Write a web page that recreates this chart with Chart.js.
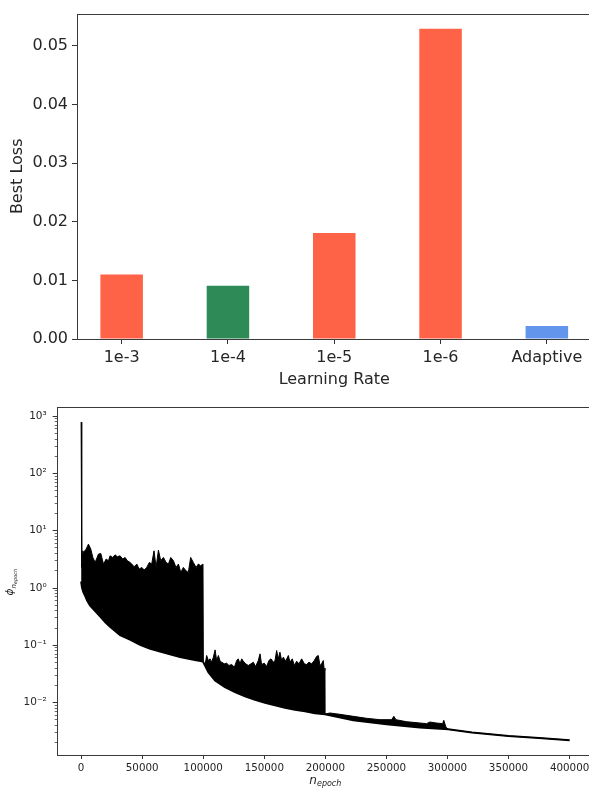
<!DOCTYPE html>
<html><head><meta charset="utf-8">
<script src="https://cdn.jsdelivr.net/npm/chart.js@4.4.0/dist/chart.umd.min.js"></script>
<style>
html,body{margin:0;padding:0;background:#fff;overflow:hidden;width:589px;height:794px;}
#top{position:absolute;left:0;top:0;}
#bot{position:absolute;left:0;top:395px;}
</style></head><body>
<canvas id="top" width="600" height="395"></canvas>
<canvas id="bot" width="600" height="399"></canvas>
<script>
// ---------- top chart data ----------
const learningRates = ['1e-3', '1e-4', '1e-5', '1e-6', 'Adaptive'];
const bestLoss = [0.0110, 0.0091, 0.0181, 0.0529, 0.0022];
const barColors = ['#FF6347', '#2E8B57', '#FF6347', '#FF6347', '#6495ED'];
const lossTicks = [0, 0.01, 0.02, 0.03, 0.04, 0.05];

// ---------- bottom chart data: [epoch, phi] ----------
const upperPhase1 = [[0,790],[500,2.3],[1400,4.47],[1900,4.18],[4100,4.78],[6000,5.84],[7900,4.78],[9600,3.42],[11500,2.80],[14200,3.91],[16100,4.01],[18300,2.62],[20500,3.20],[22400,2.99],[23700,3.65],[25900,3.42],[27800,3.80],[29700,3.51],[31900,3.65],[34100,3.20],[36000,3.42],[37900,2.99],[40100,2.80],[41500,2.62],[43400,2.35],[45600,2.62],[47500,2.14],[49700,2.29],[51600,2.06],[53700,2.29],[55900,2.80],[57800,2.62],[59700,4.47],[61400,2.29],[63300,4.59],[65200,2.99],[67400,3.42],[69600,2.80],[71500,2.62],[73400,3.42],[75600,2.99],[77700,2.29],[79700,2.62],[81600,1.87],[83700,2.29],[85900,2.00],[87800,1.87],[89700,3.42],[91900,2.80],[94100,2.29],[96000,2.62],[97900,2.44],[99800,2.62]];
const upperPhase2 = [[100100,0.0506],[101500,0.045],[102800,0.0662],[104200,0.0541],[105600,0.0579],[106900,0.0506],[108300,0.0619],[109700,0.0830],[111000,0.0541],[112400,0.0662],[113800,0.0527],[115100,0.0506],[117300,0.0473],[119200,0.0486],[121100,0.0443],[123300,0.0461],[125500,0.0414],[127400,0.0541],[128700,0.0579],[130100,0.0473],[131500,0.0579],[132800,0.0527],[134800,0.0473],[136900,0.0443],[139100,0.0473],[141000,0.0506],[142900,0.0425],[145100,0.0541],[146500,0.0708],[147800,0.0461],[150000,0.0486],[151900,0.0425],[153800,0.0541],[155500,0.0579],[157400,0.0506],[158800,0.0541],[160100,0.0809],[161500,0.0579],[162800,0.0757],[164200,0.0541],[165600,0.0619],[167500,0.0527],[169700,0.0662],[171000,0.0506],[172900,0.0579],[174600,0.0443],[176500,0.0527],[178400,0.0473],[180600,0.0579],[182800,0.0473],[184700,0.0461],[186600,0.0506],[188800,0.0473],[190900,0.0541],[192800,0.0636],[194200,0.0662],[195600,0.0443],[196900,0.0473],[198300,0.0541],[199100,0.0362],[199700,0.040]];
const upperPhase3 = [[199800,0.0063],[203800,0.00655],[211900,0.00621],[222900,0.00573],[233800,0.00529],[244700,0.00501],[254200,0.00501],[256100,0.00573],[257800,0.0050],[266500,0.00462],[277400,0.00438],[282900,0.00427],[285600,0.00456],[291000,0.00438],[296000,0.00427],[297000,0.00488],[298700,0.00373],[300600,0.0034]];
const lowerPhase1 = [[0,1.3],[800,1.0],[1900,0.84],[3300,0.73],[5000,0.60],[7400,0.49],[10000,0.43],[15500,0.32],[20000,0.25],[23700,0.21],[31900,0.15],[40000,0.125],[48300,0.102],[56000,0.088],[64600,0.078],[72000,0.070],[81000,0.062],[90000,0.057],[99800,0.052]];
const lowerPhase2 = [[100100,0.0506],[104200,0.0339],[109700,0.0243],[117800,0.0185],[126000,0.0152],[134200,0.0128],[142400,0.0112],[150600,0.0099],[158800,0.0089],[166900,0.0081],[175100,0.0075],[183300,0.0070],[191500,0.0065],[199700,0.0062]];
const lowerPhase3 = [[222900,0.00488],[250100,0.00415],[277400,0.00364],[300600,0.0034]];
const tailPhase4 = [[320000,0.0030],[350000,0.0026],[375000,0.0024],[400000,0.0022]];

const epochTicks = [0, 50000, 100000, 150000, 200000, 250000, 300000, 350000, 400000];
const phiMajorTicks = [1e-2, 1e-1, 1, 10, 100, 1000];
const phiMajorLabels = ['10\u207B\u00B2', '10\u207B\u00B9', '10\u2070', '10\u00B9', '10\u00B2', '10\u00B3'];
const phiMinorMantissas = [2, 3, 4, 5, 6, 7, 8, 9];
const phiMinorDecades = [1e-3, 1e-2, 1e-1, 1, 10, 100];

const FONT = "'DejaVu Sans', sans-serif";
const TXT = '#262626';
Chart.defaults.font.family = FONT;
Chart.defaults.color = TXT;

const frame = {
  id: 'frame',
  afterDraw(chart) {
    const {ctx, chartArea: a} = chart;
    ctx.save();
    ctx.strokeStyle = '#3a3a3a';
    ctx.lineWidth = 1;
    ctx.strokeRect(Math.round(a.left) + 0.5, Math.round(a.top) + 0.5,
      Math.round(a.right - a.left), Math.round(a.bottom - a.top));
    ctx.restore();
  }
};

// ---------- top bar chart ----------
new Chart(document.getElementById('top'), {
  type: 'bar',
  data: {
    datasets: [{
      data: bestLoss.map((v, i) => ({x: i, y: v})),
      backgroundColor: barColors,
      borderWidth: 0,
      categoryPercentage: 0.4,
      barPercentage: 1
    }]
  },
  options: {
    responsive: false, animation: false, devicePixelRatio: 1,
    layout: {padding: {top: 5, right: 8.5, left: 0, bottom: 0}},
    plugins: {legend: {display: false}, tooltip: {enabled: false}},
    scales: {
      x: {
        type: 'linear', min: -0.42, max: 4.42, offset: false,
        afterBuildTicks: s => { s.ticks = learningRates.map((_, i) => ({value: i})); },
        afterFit: s => { s.height = 56; },
        ticks: {callback: v => learningRates[v], font: {size: 16}, color: TXT, padding: 4, maxRotation: 0, autoSkip: false},
        grid: {offset: false, drawOnChartArea: false, drawTicks: true, tickLength: 5, tickColor: '#333', tickWidth: 1},
        border: {display: false},
        title: {display: true, text: 'Learning Rate', font: {size: 16}, color: TXT, padding: {top: 0, bottom: 5.4}}
      },
      y: {
        min: 0, max: 0.0555,
        afterBuildTicks: s => { s.ticks = lossTicks.map(v => ({value: v})); },
        afterFit: s => { s.width = 77; },
        ticks: {callback: v => v.toFixed(2), font: {size: 16}, color: TXT, padding: 4},
        grid: {drawOnChartArea: false, drawTicks: true, tickLength: 5, tickColor: '#333', tickWidth: 1},
        border: {display: false},
        title: {display: true, text: 'Best Loss', font: {size: 16}, color: TXT, padding: {top: 8, bottom: 0}}
      }
    }
  },
  plugins: [frame]
});

// ---------- bottom log chart ----------
const toPts = arr => arr.map(p => ({x: p[0], y: p[1]}));
const upperPts = toPts([...upperPhase1, ...upperPhase2, ...upperPhase3, ...tailPhase4]);
const lowerPts = toPts([...lowerPhase1, ...lowerPhase2, ...lowerPhase3, ...tailPhase4]);
const PHI_MIN = 0.00121, PHI_MAX = 1435;
const phiMinorTicks = [];
phiMinorDecades.forEach(d => phiMinorMantissas.forEach(m => {
  const v = m * d;
  if (v > PHI_MIN && v < PHI_MAX) phiMinorTicks.push(v);
}));

const mathTitles = {
  id: 'mathTitles',
  afterDraw(chart) {
    const {ctx, chartArea: a} = chart;
    ctx.save();
    ctx.fillStyle = TXT;
    ctx.textBaseline = 'alphabetic';
    ctx.textAlign = 'left';
    const fMain = "italic 12px " + FONT, fSub = "italic 8px " + FONT;
    ctx.font = fMain; const wn = ctx.measureText('n').width;
    ctx.font = fSub; const we = ctx.measureText('epoch').width;
    const cx = (a.left + a.right) / 2;
    const x0 = cx - (wn + we) / 2;
    const by = a.bottom + 28.5;
    ctx.font = fMain; ctx.fillText('n', x0, by);
    ctx.font = fSub; ctx.fillText('epoch', x0 + wn, by + 2.5);
    const fPhi = "italic 10.5px " + FONT, fN = "italic 7px " + FONT, fE = "italic 5px " + FONT;
    ctx.font = fPhi; const wPhi = ctx.measureText('\u03D5').width;
    ctx.font = fN; const wN = ctx.measureText('n').width;
    ctx.font = fE; const wE = ctx.measureText('epoch').width;
    const total = wPhi + wN + wE;
    const cy = (a.top + a.bottom) / 2 + 1;
    ctx.translate(0, cy + total / 2);
    ctx.rotate(-Math.PI / 2);
    ctx.font = fPhi; ctx.fillText('\u03D5', 0, 13);
    ctx.font = fN; ctx.fillText('n', wPhi, 15.5);
    ctx.font = fE; ctx.fillText('epoch', wPhi + wN, 17);
    ctx.restore();
  }
};

new Chart(document.getElementById('bot'), {
  type: 'line',
  data: {
    datasets: [
      {data: upperPts, borderColor: '#000', borderWidth: 1, pointRadius: 0, fill: '+1', backgroundColor: '#000', tension: 0},
      {data: lowerPts, borderColor: '#000', borderWidth: 2, pointRadius: 0, fill: false, tension: 0}
    ]
  },
  options: {
    responsive: false, animation: false, devicePixelRatio: 1,
    layout: {padding: {top: 11, right: 6, left: 0, bottom: 0}},
    plugins: {legend: {display: false}, tooltip: {enabled: false}},
    scales: {
      x: {
        type: 'linear', min: -20000, max: 420000,
        afterBuildTicks: s => { s.ticks = epochTicks.map(v => ({value: v})); },
        afterFit: s => { s.height = 39; },
        ticks: {callback: v => String(v), font: {size: 10.3}, color: TXT, padding: 3, maxRotation: 0, autoSkip: false},
        grid: {drawOnChartArea: false, drawTicks: true, tickLength: 4, tickColor: '#333', tickWidth: 1},
        border: {display: false}
      },
      y: {
        type: 'logarithmic', position: 'left', weight: 1, min: PHI_MIN, max: PHI_MAX,
        afterBuildTicks: s => { s.ticks = phiMajorTicks.map(v => ({value: v})); },
        afterFit: s => { s.width = 56.7; },
        ticks: {
          callback: v => {
            const i = phiMajorTicks.findIndex(t => Math.abs(Math.log10(t) - Math.log10(v)) < 1e-6);
            return i >= 0 ? phiMajorLabels[i] : '';
          },
          font: {size: 10.5}, color: TXT, padding: 6, autoSkip: false
        },
        grid: {drawOnChartArea: false, drawTicks: true, tickLength: 4, tickColor: '#333', tickWidth: 1},
        border: {display: false}
      },
      yMinor: {
        type: 'logarithmic', position: 'left', weight: 0, min: PHI_MIN, max: PHI_MAX,
        afterBuildTicks: s => { s.ticks = phiMinorTicks.map(v => ({value: v})); },
        afterFit: s => { s.width = 0; },
        ticks: {display: false},
        grid: {drawOnChartArea: false, drawTicks: true, tickLength: 2, tickColor: '#444', tickWidth: 0.8},
        border: {display: false}
      }
    }
  },
  plugins: [frame, mathTitles]
});
</script>
</body></html>
